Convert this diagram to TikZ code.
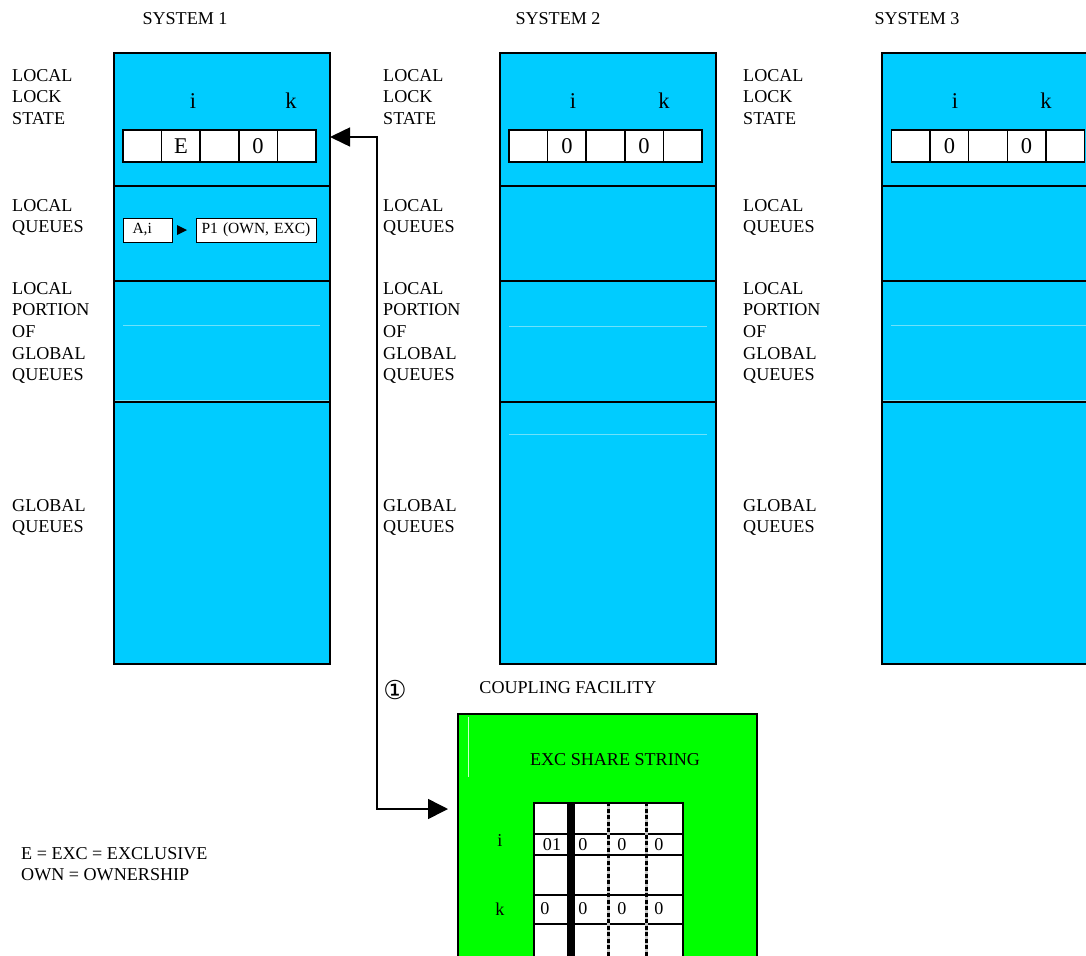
\documentclass[tikz,border=0pt]{standalone}
\usepackage{fontspec}
\setmainfont{Liberation Serif}
\newfontfamily\dejavu{DejaVu Sans}
\usetikzlibrary{arrows.meta,calc}
\definecolor{sysblue}{RGB}{0,204,255}
\definecolor{cfgreen}{RGB}{0,255,0}
\definecolor{faintc}{RGB}{110,225,250}
\tikzset{
  txt/.style={font=\fontsize{18.1}{21.7}\selectfont, inner sep=0pt},
  lbl/.style={txt, align=left, anchor=north west},
  sysbox/.style={draw=black, line width=2pt, fill=sysblue, minimum width=216pt,
    minimum height=611pt, anchor=north west, inner sep=0pt, outer sep=0pt},
  divider/.style={line width=2pt},
  faint/.style={draw=faintc, line width=1pt},
  cell/.style={draw=black, fill=white, line width=1.5pt, minimum width=38.6pt,
    minimum height=32pt, inner sep=0pt, outer sep=0pt, font=\fontsize{22}{26}\selectfont},
  biglbl/.style={font=\fontsize{22.5}{26}\selectfont, inner sep=0pt},
  qbox/.style={draw=black, fill=white, line width=1pt, minimum height=24pt,
    inner ysep=0pt, anchor=west, align=left, font=\fontsize{15.5}{18}\selectfont},
  cfbox/.style={draw=black, line width=2pt, fill=cfgreen, minimum width=299pt,
    minimum height=260pt, anchor=north west, inner sep=0pt, outer sep=0pt},
  tline/.style={line width=2pt},
  dline/.style={line width=3pt, dash pattern=on 4pt off 2.5pt},
  link/.style={line width=1.5pt, {Triangle[length=20pt,width=19pt]}-{Triangle[length=20pt,width=20pt]}},
}
\begin{document}
\begin{tikzpicture}[x=1pt,y=-1pt]
\useasboundingbox (0,0) rectangle (1086,955);

% system titles
\node[txt] (t1) at (185,19) {SYSTEM 1};
\node[txt] (t2) at (558,19) {SYSTEM 2};
\node[txt] (t3) at (917,19) {SYSTEM 3};

% side labels
\foreach \lx/\nm in {12/a, 383/b, 743/c}{
  \node[lbl] (lls\nm) at (\lx,69) {LOCAL\\LOCK\\STATE};
  \node[lbl] (lq\nm) at (\lx,199) {LOCAL\\QUEUES};
  \node[lbl] (lp\nm) at (\lx,282) {LOCAL\\PORTION\\OF\\GLOBAL\\QUEUES};
  \node[lbl] (gq\nm) at (\lx,499) {GLOBAL\\QUEUES};
}

% system boxes
\node[sysbox] (s1) at (114,53) {};
\node[sysbox] (s2) at (500,53) {};
\node[sysbox] (s3) at (882,53) {};

% faint lines
\draw[faint] (123,325) -- (320,325);
\draw[faint] (115,400) -- (329,400);
\draw[faint] (509,326) -- (707,326);
\draw[faint] (509,434) -- (707,434);
\draw[faint] (891,325) -- (1086,325);
\draw[faint] (883,400) -- (1086,400);

% dividers
\foreach \lx in {114,500,882}{
  \draw[divider] (\lx,186) -- ++(216,0);
  \draw[divider] (\lx,281) -- ++(216,0);
  \draw[divider] (\lx,402) -- ++(216,0);
}

% lock state rows
\foreach \n/\lx in {1/123, 2/509, 3/891.5}{
  \foreach \c in {1,...,5}{
    \node[cell] (s\n c\c) at ({\lx+19.3+38.6*(\c-1)},146) {};
  }
}
\node[biglbl] at (s1c2) {E};
\node[biglbl] at (s1c4) {0};
\node[biglbl] at (s2c2) {0};
\node[biglbl] at (s2c4) {0};
\node[biglbl] at (s3c2) {0};
\node[biglbl] at (s3c4) {0};

\node[biglbl] (i1) at (193,101) {i};
\node[biglbl] (k1) at (291,101) {k};
\node[biglbl] (i2) at (573,101) {i};
\node[biglbl] (k2) at (664,101) {k};
\node[biglbl] (i3) at (955,101) {i};
\node[biglbl] (k3) at (1046,101) {k};

% local queue of system 1
\node[qbox, inner xsep=9pt, text width=31pt] (ai) at (123,230) {A,i};
\node[qbox, inner xsep=5pt, text width=110pt] (p1) at (196,230) {P1 (OWN, EXC)};
\fill ($(ai.east)+(4,-5)$) -- ($(ai.east)+(14,0)$) -- ($(ai.east)+(4,5)$) -- cycle;

% coupling facility
\node[txt] (cft) at (568,688) {COUPLING FACILITY};
\node[cfbox] (cf) at (458,714) {};
\draw[white, line width=0.8pt, opacity=0.8] (468,717) -- (468,777);
\node[txt] (ess) at (615,760) {EXC SHARE STRING};

\node[draw=black, fill=white, line width=1.5pt, minimum width=149pt, minimum height=190pt,
  anchor=north west, inner sep=0pt] (tbl) at (533,802) {};
\foreach \yy in {834,855,895,924}{
  \draw[tline] (533,\yy) -- (682,\yy);
}
\draw[line width=8pt] (571,802) -- (571,960);
\draw[gray!45, line width=3pt] (608,802) -- (608,960);
\draw[gray!45, line width=3pt] (646,802) -- (646,960);
\draw[dline] (608,802) -- (608,960);
\draw[dline] (646,802) -- (646,960);

\node[txt] (ti) at (500,840) {i};
\node[txt] (tk) at (500,909) {k};
\node[txt] at (552,845) {01};
\node[txt] at (583,845) {0};
\node[txt] at (622,845) {0};
\node[txt] at (659,845) {0};
\node[txt] at (545,909) {0};
\node[txt] at (583,909) {0};
\node[txt] at (622,909) {0};
\node[txt] at (659,909) {0};

% connector
\coordinate (bendA) at (377,137);
\coordinate (bendB) at (377,809);
\draw[link, shorten >=10pt] (s1.east |- bendA) -- (bendA) -- (bendB) -- (cf.west |- bendB);
\node[font=\dejavu\fontsize{26}{30}\selectfont, inner sep=0pt] (one) at (395,690) {①};

% legend
\node[lbl] (leg) at (21,847) {E = EXC = EXCLUSIVE\\OWN = OWNERSHIP};
\end{tikzpicture}
\end{document}
